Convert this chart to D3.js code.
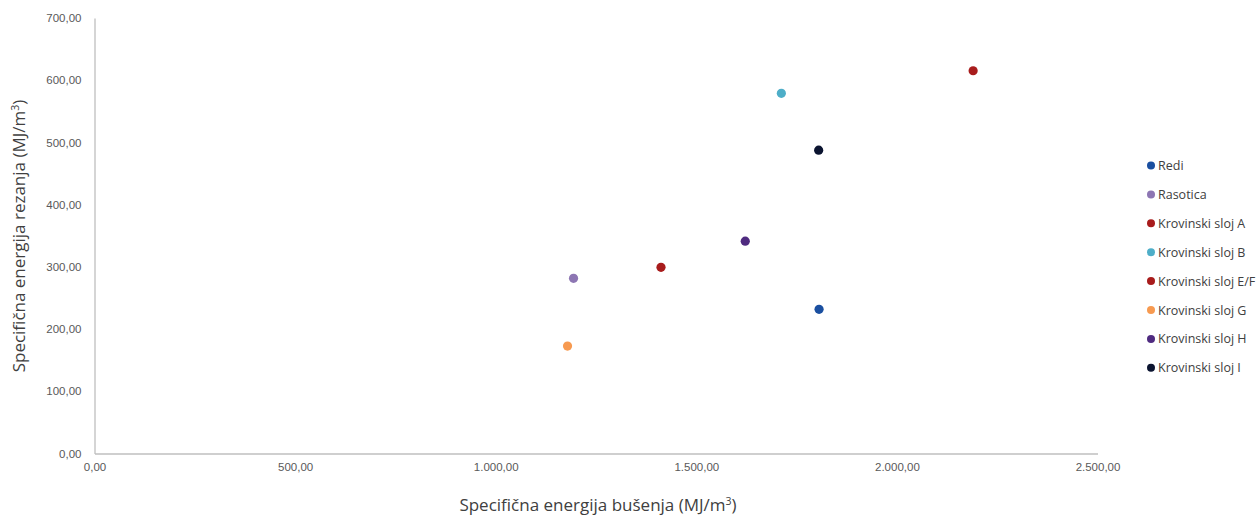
<!DOCTYPE html>
<html><head><meta charset="utf-8">
<script src="https://cdn.jsdelivr.net/npm/d3@7"></script>
<style>
body{margin:0;background:#fff;}
svg{display:block;font-family:"Open Sans",Arial,sans-serif;}
</style></head>
<body><div id="chart"></div>
<script>
const seriesNames = ["Redi","Rasotica","Krovinski sloj A","Krovinski sloj B","Krovinski sloj E/F","Krovinski sloj G","Krovinski sloj H","Krovinski sloj I"];
const xValues = [1806, 1194, 1412, 1712, 2190, 1179, 1622, 1805];
const yValues = [231.7, 281.6, 299.3, 578.9, 615.2, 172.7, 341.2, 487.6];
const seriesColors = ["#1a4fa0","#8d76b3","#a81c1c","#4eaec8","#a81c1c","#f79a50","#4f2b80","#0b1430"];
const xTicks = [0,500,1000,1500,2000,2500];
const yTicks = [0,100,200,300,400,500,600,700];

const W=1260,H=516;
const svg=d3.select("#chart").append("svg").attr("width",W).attr("height",H);
const x=d3.scaleLinear().domain([0,2500]).range([94.5,1097.5]);
const y=d3.scaleLinear().domain([0,700]).range([453.5,18]);
const fmt=v=>{const s=d3.format(",.2f")(v);return s.replace(/,/g,"#").replace(".",",").replace(/#/g,".");};

const xAxis=svg.append("g").attr("transform",`translate(0,${y(0)})`)
  .call(d3.axisBottom(x).tickValues(xTicks).tickSize(0).tickPadding(9).tickFormat(fmt));
const yAxis=svg.append("g").attr("transform",`translate(${x(0)},0)`)
  .call(d3.axisLeft(y).tickValues(yTicks).tickSize(0).tickPadding(13).tickFormat(fmt));
[xAxis,yAxis].forEach(a=>{
  a.select(".domain").attr("stroke","#bfbfbf").attr("stroke-width",1.3);
  a.selectAll("text").attr("fill","#595959").style("font-size","11.5px");
});

const data=seriesNames.map((n,i)=>({n,x:xValues[i],y:yValues[i],c:seriesColors[i]}));
svg.append("g").selectAll("circle").data(data).join("circle")
  .attr("cx",d=>x(d.x)).attr("cy",d=>y(d.y)).attr("r",4.6).attr("fill",d=>d.c);

// axis titles
const xt=svg.append("text").attr("x",598).attr("y",511).attr("text-anchor","middle")
  .attr("fill","#404040").style("font-size","17px");
xt.append("tspan").text("Specifična energija bušenja (MJ/m");
xt.append("tspan").attr("dy",-6).style("font-size","10.5px").text("3");
xt.append("tspan").attr("dy",6).text(")");

const yt=svg.append("text").attr("transform","translate(25,236) rotate(-90)").attr("text-anchor","middle")
  .attr("fill","#404040").style("font-size","17px");
yt.append("tspan").text("Specifična energija rezanja (MJ/m");
yt.append("tspan").attr("dy",-6).style("font-size","10.5px").text("3");
yt.append("tspan").attr("dy",6).text(")");

// legend
const lg=svg.append("g").selectAll("g").data(data).join("g")
  .attr("transform",(d,i)=>`translate(1151,${165.5+i*28.9})`);
lg.append("circle").attr("r",4).attr("fill",d=>d.c);
lg.append("text").attr("x",7).attr("y",4.5).attr("fill","#404040").style("font-size","12.5px").text(d=>d.n);
</script></body></html>
